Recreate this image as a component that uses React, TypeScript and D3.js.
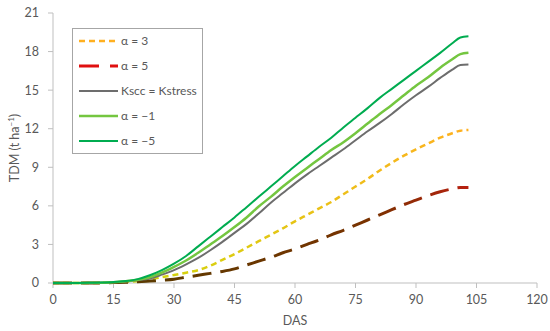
import { useEffect, useRef } from "react"
import * as d3 from "d3"

const days = [0, 3, 6, 9, 12, 15, 18, 21, 24, 27, 30, 33, 36, 39, 42, 45, 48, 51, 54, 57, 60, 63, 66, 69, 72, 75, 78, 81, 84, 87, 90, 93, 96, 99, 101, 103]

const alphaPos3 = [0, 0, 0, 0, 0.01, 0.04, 0.08, 0.15, 0.3, 0.45, 0.62, 0.8, 1.0, 1.35, 1.8, 2.25, 2.75, 3.25, 3.75, 4.25, 4.8, 5.3, 5.8, 6.3, 6.9, 7.5, 8.1, 8.75, 9.35, 9.9, 10.4, 10.85, 11.3, 11.65, 11.85, 11.9]
const alphaPos5 = [0, 0, 0, 0, 0.01, 0.03, 0.05, 0.1, 0.15, 0.22, 0.3, 0.45, 0.6, 0.75, 0.9, 1.1, 1.4, 1.7, 2.0, 2.35, 2.65, 3.0, 3.35, 3.75, 4.1, 4.5, 4.9, 5.3, 5.7, 6.1, 6.45, 6.8, 7.1, 7.32, 7.42, 7.42]
const ksccKstress = [0, 0, 0, 0.01, 0.02, 0.06, 0.12, 0.22, 0.35, 0.65, 1.0, 1.45, 1.95, 2.55, 3.2, 3.9, 4.6, 5.4, 6.25, 7.0, 7.75, 8.45, 9.1, 9.75, 10.4, 11.1, 11.8, 12.45, 13.15, 13.9, 14.6, 15.25, 15.95, 16.6, 16.95, 17.0]
const alphaNeg1 = [0, 0, 0, 0.01, 0.02, 0.06, 0.13, 0.25, 0.45, 0.8, 1.25, 1.75, 2.35, 3.0, 3.65, 4.35, 5.1, 5.95, 6.7, 7.5, 8.25, 8.95, 9.65, 10.35, 10.95, 11.65, 12.4, 13.15, 13.85, 14.6, 15.35, 16.0, 16.75, 17.4, 17.8, 17.9]
const alphaNeg5 = [0, 0, 0, 0.01, 0.03, 0.07, 0.15, 0.3, 0.6, 1.0, 1.5, 2.1, 2.85, 3.6, 4.35, 5.1, 5.9, 6.7, 7.5, 8.3, 9.1, 9.85, 10.6, 11.3, 12.1, 12.85, 13.6, 14.4, 15.1, 15.8, 16.5, 17.2, 17.9, 18.65, 19.1, 19.2]

const xTicks = [0, 15, 30, 45, 60, 75, 90, 105, 120]
const yTicks = [0, 3, 6, 9, 12, 15, 18, 21]

const seriesNames = ["α = 3", "α = 5", "Kscc = Kstress", "α = −1", "α = −5"]

const W = 550
const H = 331
const FONT = "Lato, 'Open Sans', sans-serif"
const TEXT = "#595959"
const AXIS = "#bfbfbf"

export default function App() {
  const svgRef = useRef<SVGSVGElement>(null)

  useEffect(() => {
    if (!svgRef.current) return
    const svg = d3.select(svgRef.current)
    svg.selectAll("*").remove()

    const x = d3.scaleLinear().domain([0, 120]).range([53, 537])
    const y = d3.scaleLinear().domain([0, 21]).range([283, 13])

    // gradients used by the two dashed lines (colour shifts along the curve)
    const defs = svg.append("defs")
    const yellowGrad = defs.append("linearGradient")
      .attr("id", "yellowGrad")
      .attr("gradientUnits", "userSpaceOnUse")
      .attr("x1", x(25)).attr("x2", x(103)).attr("y1", 0).attr("y2", 0)
    yellowGrad.append("stop").attr("offset", 0).attr("stop-color", "#d2d40c")
    yellowGrad.append("stop").attr("offset", 1).attr("stop-color", "#ffb020")
    const redGrad = defs.append("linearGradient")
      .attr("id", "redGrad")
      .attr("gradientUnits", "userSpaceOnUse")
      .attr("x1", x(25)).attr("x2", x(103)).attr("y1", 0).attr("y2", 0)
    redGrad.append("stop").attr("offset", 0).attr("stop-color", "#5c3a00")
    redGrad.append("stop").attr("offset", 0.7).attr("stop-color", "#7a3200")
    redGrad.append("stop").attr("offset", 1).attr("stop-color", "#b82010")

    // axes
    svg.append("line")
      .attr("x1", x(0)).attr("x2", x(0)).attr("y1", y(21)).attr("y2", y(0))
      .attr("stroke", AXIS)
    svg.append("line")
      .attr("x1", x(0)).attr("x2", x(120)).attr("y1", y(0)).attr("y2", y(0))
      .attr("stroke", AXIS)

    yTicks.forEach(t => {
      svg.append("line")
        .attr("x1", x(0) - 5).attr("x2", x(0)).attr("y1", y(t)).attr("y2", y(t))
        .attr("stroke", AXIS)
      svg.append("text")
        .attr("x", x(0) - 14).attr("y", y(t)).attr("dy", "0.35em")
        .attr("text-anchor", "end")
        .attr("font-family", FONT).attr("font-size", 12.5).attr("fill", TEXT)
        .text(t)
    })
    xTicks.forEach(t => {
      svg.append("line")
        .attr("x1", x(t)).attr("x2", x(t)).attr("y1", y(0)).attr("y2", y(0) + 5)
        .attr("stroke", AXIS)
      svg.append("text")
        .attr("x", x(t)).attr("y", 304)
        .attr("text-anchor", "middle")
        .attr("font-family", FONT).attr("font-size", 12.5).attr("fill", TEXT)
        .text(t)
    })

    svg.append("text")
      .attr("x", (x(0) + x(120)) / 2).attr("y", 325)
      .attr("text-anchor", "middle")
      .attr("font-family", FONT).attr("font-size", 12.5).attr("fill", TEXT)
      .text("DAS")

    const yTitle = svg.append("text")
      .attr("transform", `translate(19,${(y(0) + y(21)) / 2}) rotate(-90)`)
      .attr("text-anchor", "middle")
      .attr("font-family", FONT).attr("font-size", 12.5).attr("fill", TEXT)
    yTitle.append("tspan").text("TDM (t ha")
    yTitle.append("tspan").attr("font-size", 8).attr("dy", -5).text("−1")
    yTitle.append("tspan").attr("dy", 5).text(")")

    // series
    const series = [
      { name: seriesNames[0], values: alphaPos3, color: "url(#yellowGrad)", legend: "#ffb020", width: 2.5, dash: "6,4", legendDash: "6,4" },
      { name: seriesNames[1], values: alphaPos5, color: "url(#redGrad)", legend: "#e01010", width: 3, dash: "19,9", legendDash: "20,11" },
      { name: seriesNames[2], values: ksccKstress, color: "#6d6d6d", legend: "#6d6d6d", width: 2, dash: null, legendDash: null },
      { name: seriesNames[3], values: alphaNeg1, color: "#74c640", legend: "#74c640", width: 2.5, dash: null, legendDash: null },
      { name: seriesNames[4], values: alphaNeg5, color: "#00ac50", legend: "#00ac50", width: 2, dash: null, legendDash: null },
    ]

    const line = d3.line<number>()
      .x((_, i) => x(days[i]))
      .y(d => y(d))
      .curve(d3.curveMonotoneX)

    series.forEach(s => {
      svg.append("path")
        .attr("d", line(s.values) as string)
        .attr("fill", "none")
        .attr("stroke", s.color)
        .attr("stroke-width", s.width)
        .attr("stroke-dasharray", s.dash)
        .attr("stroke-linejoin", "round")
    })

    // legend
    const lg = svg.append("g")
    lg.append("rect")
      .attr("x", 72.5).attr("y", 28.5).attr("width", 130).attr("height", 125)
      .attr("fill", "white").attr("stroke", "#a6a6a6").attr("stroke-width", 1)
    series.forEach((s, i) => {
      const ly = 41 + i * 25
      lg.append("line")
        .attr("x1", 79).attr("x2", 118).attr("y1", ly).attr("y2", ly)
        .attr("stroke", s.legend)
        .attr("stroke-width", s.width)
        .attr("stroke-dasharray", s.legendDash)
      lg.append("text")
        .attr("x", 121).attr("y", ly).attr("dy", "0.35em")
        .attr("font-family", FONT).attr("font-size", 12).attr("fill", TEXT)
        .text(s.name)
    })
  }, [])

  return (
    <svg
      ref={svgRef}
      width={W}
      height={H}
      style={{ position: "absolute", left: 0, top: 0, display: "block", background: "white" }}
    />
  )
}
